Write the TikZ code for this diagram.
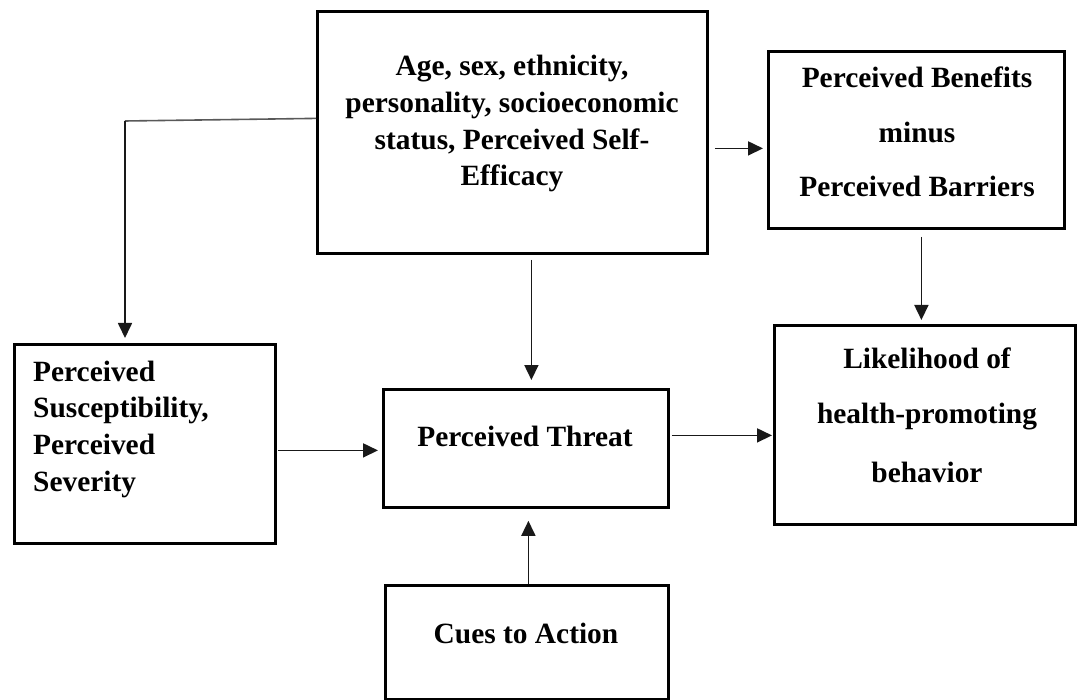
\documentclass[tikz,border=0pt]{standalone}
\usepackage{fontspec}
\setmainfont{Liberation Serif}
\usetikzlibrary{arrows.meta}
\begin{document}
\begin{tikzpicture}[x=1pt,y=-1pt,
  box/.style={draw=black,line width=2.8pt,rectangle,anchor=north west,inner sep=0pt},
  txt/.style={font=\fontsize{29.4}{36.7}\selectfont\bfseries,inner sep=0pt,anchor=base},
  ltxt/.style={txt,anchor=base west},
  arr/.style={draw=black!90,line width=1.7pt,-{Triangle[length=15pt,width=14pt]}},
  link/.style={draw=black!65,line width=1.6pt}]
\useasboundingbox (0,0) rectangle (1078,700);
% boxes
\node[box,minimum width=390pt,minimum height=242pt] (top) at (316,10) {};
\node[box,minimum width=296pt,minimum height=177pt] (ben) at (767,50) {};
\node[box,minimum width=261pt,minimum height=199pt] (left) at (13,343) {};
\node[box,minimum width=285pt,minimum height=118pt] (threat) at (382,388) {};
\node[box,minimum width=301pt,minimum height=199pt] (like) at (773,324) {};
\node[box,minimum width=283pt,minimum height=114pt] (cues) at (384,584) {};
% texts
\node[txt] (t1) at (512,76) {Age, sex, ethnicity,};
\node[txt] (t2) at (512,113) {personality, socioeconomic};
\node[txt] (t3) at (512,150) {status, Perceived Self-};
\node[txt] (t4) at (512,186) {Efficacy};
\node[txt] (b1) at (917,88) {Perceived Benefits};
\node[txt] (b2) at (917,143) {minus};
\node[txt] (b3) at (917,197) {Perceived Barriers};
\node[ltxt] (l1) at (33,381) {Perceived};
\node[ltxt] (l2) at (33,417) {Susceptibility,};
\node[ltxt] (l3) at (33,454) {Perceived};
\node[ltxt] (l4) at (33,491) {Severity};
\node[txt] (th) at (525,446) {Perceived Threat};
\node[txt] (k1) at (927,368) {Likelihood of};
\node[txt] (k2) at (927,423) {health-promoting};
\node[txt] (k3) at (927,482) {behavior};
\node[txt] (c1) at (526,643) {Cues to Action};
% connectors
\coordinate (bend) at (125,121);
\draw[link] ([yshift=14pt]top.west) -- (bend);
\draw[arr,shorten >=5pt] (bend) -- (bend |- left.north);
\draw[arr,shorten <=5pt,shorten >=8pt] ([xshift=19pt]top.south) -- ([xshift=5.5pt]threat.north);
\draw[arr,shorten <=6pt,shorten >=4pt] ([yshift=-16pt]top.east) -- ([yshift=-8.5pt]ben.west);
\draw[arr,shorten <=7pt,shorten >=4pt] ([xshift=5pt]ben.south) -- ([xshift=-3.5pt]like.north);
\draw[arr,shorten <=1pt,shorten >=4pt] ([yshift=-6.5pt]left.east) -- ([yshift=-2pt]threat.west);
\draw[arr,shorten <=2pt,shorten >=1pt] ([yshift=13pt]threat.east) -- ([yshift=-10.5pt]like.west);
\draw[arr,shorten >=12pt] ([xshift=1.5pt]cues.north) -- ([xshift=2.5pt]threat.south);
\end{tikzpicture}
\end{document}
